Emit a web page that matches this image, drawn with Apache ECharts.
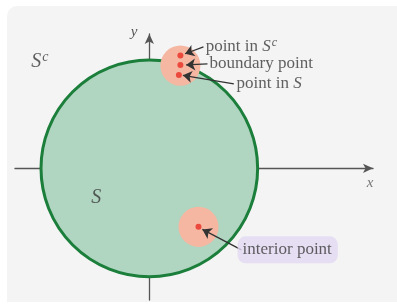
<!DOCTYPE html>
<html>
<head>
<meta charset="utf-8">
<script src="https://cdn.jsdelivr.net/npm/echarts@6/dist/echarts.min.js"></script>
<style>
    html, body { margin: 0; padding: 0; background: #fff; }
    #chart { width: 397px; height: 305px; }
</style>
</head>
<body>
<div id="chart"></div>
<script>
// region S: [cx, cy, r] in axis units
const regionS = [[0, 0, 1]];
// small neighbourhood discs [cx, cy, r]
const neighbourhoods = [[0.287, 0.952, 0.185], [0.454, -0.542, 0.185]];
// red points [x, y]
const points = [[0.287, 1.045], [0.287, 0.958], [0.273, 0.866], [0.454, -0.542]];
// annotation texts and where they sit [x, y]
const pointLabels = ["point in {sup|S}{supc|c}", "boundary point", "point in {sup|S}"];
const pointLabelPos = [[0.52, 1.125], [0.556, 0.968], [0.806, 0.782]];
const interiorLabel = "interior point";
const interiorLabelPos = [[0.815, -0.755]];
// arrows [from, to]
const arrows = [
    [[0.50, 1.125], [0.33, 1.062]],
    [[0.537, 0.968], [0.34, 0.958]],
    [[0.78, 0.782], [0.31, 0.862]],
    [[0.85, -0.755], [0.49, -0.566]]
];
const setLabels = [
    {text: "{sup|S}{supc|c}", pos: [-1.01, 0.99]},
    {text: "{sup|S}", pos: [-0.49, -0.27]},
    {text: "{ax|x}", pos: [2.037, -0.134]}
];

const serif = "Liberation Serif";
const richText = {
    sup: {fontFamily: serif, fontStyle: 'italic', fontSize: 17, color: '#3a3a3a'},
    supc: {fontFamily: serif, fontStyle: 'italic', fontSize: 12, color: '#3a3a3a', verticalAlign: 'top', padding: [0, 0, 9, 1]}
};

function discItem(fill, stroke, lw) {
    return function (params, api) {
        let c = api.coord([api.value(0), api.value(1)]);
        let r = api.size([api.value(2), 0])[0];
        return {
            type: 'circle',
            shape: {cx: c[0], cy: c[1], r: r},
            style: {fill: fill, stroke: stroke, lineWidth: lw}
        };
    };
}

let chart = echarts.init(document.getElementById('chart'));
chart.setOption({
    animation: false,
    backgroundColor: '#ffffff',
    graphic: [{
        type: 'rect',
        left: 7, top: 6,
        shape: {width: 400, height: 296, r: [10, 0, 0, 0]},
        style: {fill: '#f4f4f4'},
        z: -10
    }],
    grid: {left: 15, right: 24, top: 34, bottom: 5, containLabel: false},
    xAxis: {
        type: 'value', min: -1.24, max: 2.065,
        axisLine: {onZero: true, symbol: ['none', 'arrow'], symbolSize: [7, 10], lineStyle: {color: '#555', width: 1.3}},
        axisTick: {show: false}, axisLabel: {show: false}, splitLine: {show: false}
    },
    yAxis: {
        type: 'value', min: -1.22, max: 1.245,
        axisLine: {onZero: true, symbol: ['none', 'arrow'], symbolSize: [7, 10], lineStyle: {color: '#555', width: 1.3}},
        axisTick: {show: false}, axisLabel: {show: false}, splitLine: {show: false},
        name: 'y', nameLocation: 'end', nameGap: -6,
        nameTextStyle: {fontFamily: serif, fontStyle: 'italic', fontSize: 15, color: '#555', align: 'right', padding: [0, 12, 0, 0]}
    },
    series: [
        {
            type: 'custom', data: regionS, z: 1,
            renderItem: discItem('#b0d5c0', '#1b7f3b', 3)
        },
        {
            type: 'custom', data: neighbourhoods, z: 3,
            renderItem: discItem('#f5b7a2', 'none', 0)
        },
        {
            type: 'scatter', data: points, z: 6,
            symbol: 'circle', symbolSize: 6,
            itemStyle: {color: '#ea2d24'}
        },
        {
            type: 'lines', coordinateSystem: 'cartesian2d', z: 5,
            data: arrows.map(a => ({coords: a})),
            symbol: ['none', 'arrow'], symbolSize: [7, 9],
            lineStyle: {color: '#333', width: 1.3, opacity: 1}
        },
        {
            type: 'scatter', z: 7, symbolSize: 0,
            data: pointLabelPos.map((p, i) => ({value: p, label: {formatter: pointLabels[i]}})),
            label: {
                show: true, position: 'right', distance: 0,
                fontFamily: serif, fontSize: 17, color: '#3a3a3a',
                rich: richText
            }
        },
        {
            type: 'scatter', z: 7, symbolSize: 0,
            data: interiorLabelPos,
            label: {
                show: true, position: 'right', distance: 0,
                formatter: interiorLabel,
                fontFamily: serif, fontSize: 17, color: '#3a3a3a',
                backgroundColor: '#e2d8f3', borderRadius: 8,
                padding: [5, 6, 5, 5]
            }
        },
        {
            type: 'scatter', z: 7, symbolSize: 0,
            data: setLabels.map(s => ({value: s.pos, label: {formatter: s.text}})),
            label: {
                show: true, position: 'inside',
                fontFamily: serif, fontSize: 19, color: '#3a3a3a',
                rich: {
                    sup: {fontFamily: serif, fontStyle: 'italic', fontSize: 20, color: '#3a3a3a'},
                    supc: {fontFamily: serif, fontStyle: 'italic', fontSize: 14, color: '#3a3a3a', verticalAlign: 'top', padding: [0, 0, 9, 1]},
                    ax: {fontFamily: serif, fontStyle: 'italic', fontSize: 15, color: '#555'}
                }
            }
        }
    ]
});
</script>
</body>
</html>
